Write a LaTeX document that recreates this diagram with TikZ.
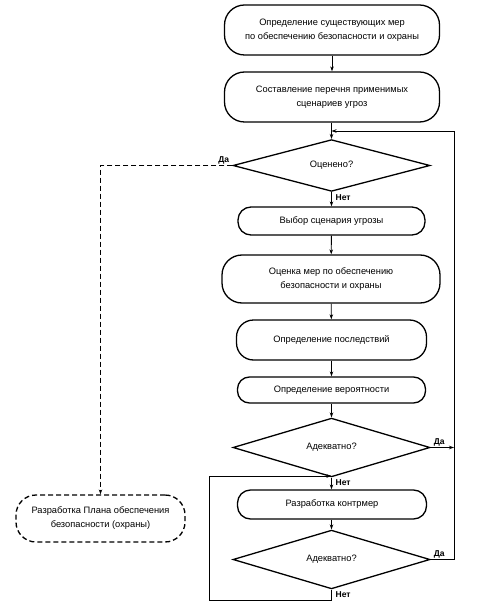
\documentclass[tikz,border=0pt]{standalone}
\usepackage{fontspec}
\setmainfont{Liberation Sans}
\usetikzlibrary{shapes.geometric,arrows.meta}
\begin{document}
\begin{tikzpicture}[x=1pt,y=-1pt,
  proc/.style={draw,line width=1.3pt,align=center,inner sep=0pt,
    font=\fontsize{9.3}{14}\selectfont},
  dec/.style={draw,diamond,line width=1.3pt,inner sep=0pt,
    minimum width=197pt,minimum height=45pt,font=\fontsize{9.3}{14}\selectfont},
  conn/.style={line width=0.9pt,-{Stealth[length=5pt,width=3.5pt]}},
  line/.style={line width=0.9pt},
  lbl/.style={font=\bfseries\fontsize{8.5}{10}\selectfont,inner sep=1pt}]
\useasboundingbox (0,0) rectangle (482,609);

\node[proc,rounded corners=20pt,minimum width=215pt,minimum height=50pt] (b1) at (332,30)
  {Определение существующих мер\\по обеспечению безопасности и охраны};
\node[proc,rounded corners=20pt,minimum width=215pt,minimum height=50pt] (b2) at (332,97)
  {Составление перечня применимых\\сценариев угроз};
\node[dec] (d1) at (331.5,165.5) {Оценено?};
\node[proc,rounded corners=13pt,minimum width=187pt,minimum height=28pt] (b3) at (331.5,221)
  {Выбор сценария угрозы};
\node[proc,rounded corners=20pt,minimum width=218pt,minimum height=48pt] (b4) at (331,279)
  {Оценка мер по обеспечению\\безопасности и охраны};
\node[proc,rounded corners=17pt,minimum width=190pt,minimum height=40pt] (b5) at (331.5,340)
  {Определение последствий};
\node[proc,rounded corners=12pt,minimum width=188pt,minimum height=26pt] (b6) at (331.5,390)
  {Определение вероятности};
\node[dec] (d2) at (331.5,447.5) {Адекватно?};
\node[proc,rounded corners=13pt,minimum width=189pt,minimum height=29pt] (b7) at (332,504.5)
  {Разработка контрмер};
\node[dec] (d3) at (331.5,559.5) {Адекватно?};
\node[proc,dashed,dash pattern=on 5pt off 3pt,rounded corners=20pt,minimum width=169pt,minimum height=47pt] (pb) at (100.5,518.5)
  {Разработка Плана обеспечения\\безопасности (охраны)};

\coordinate (rtop) at (454,131);
\coordinate (j1) at (331.5,131);
\coordinate (j2) at (331.5,476);
\coordinate (lb) at (209,600);

\draw[conn] (b1) -- (b2);
\draw[conn] (b2.south -| d1.north) -- (d1.north);
\draw[conn] (d3.east) -| (rtop) -- (j1);
\draw[conn] (d2.east) -- (d2.east -| rtop);
\draw[conn,dashed,dash pattern=on 5pt off 3pt,line width=1.3pt] (d1.west) -| (pb.north);
\draw[conn] (d1.south) -- (b3.north);
\draw[conn] (b3) -- (b4);
\draw[conn] (b4) -- (b5);
\draw[conn] (b5) -- (b6);
\draw[conn] (b6.south -| d2.north) -- (d2.north);
\draw[conn] (d2.south) -- (d2.south |- b7.north);
\draw[conn] (b7.south -| d3.north) -- (d3.north);
\draw[line] (d3.south) -- (d3.south |- lb) -- (lb) -- (lb |- j2);
\draw[conn] (lb |- j2) -- (j2);

\node[lbl,anchor=south east] (l1) at ([xshift=-2pt]d1.west) {Да};
\node[lbl,anchor=north west] (l2) at ([xshift=3pt,yshift=-1pt]d1.south) {Нет};
\node[lbl,anchor=south west] (l3) at ([xshift=2pt]d2.east) {Да};
\node[lbl,anchor=north west] (l4) at ([xshift=3pt,yshift=-1pt]d2.south) {Нет};
\node[lbl,anchor=south west] (l5) at ([xshift=2pt]d3.east) {Да};
\node[lbl,anchor=north west] (l6) at ([xshift=3pt,yshift=-1pt]d3.south) {Нет};
\end{tikzpicture}
\end{document}
